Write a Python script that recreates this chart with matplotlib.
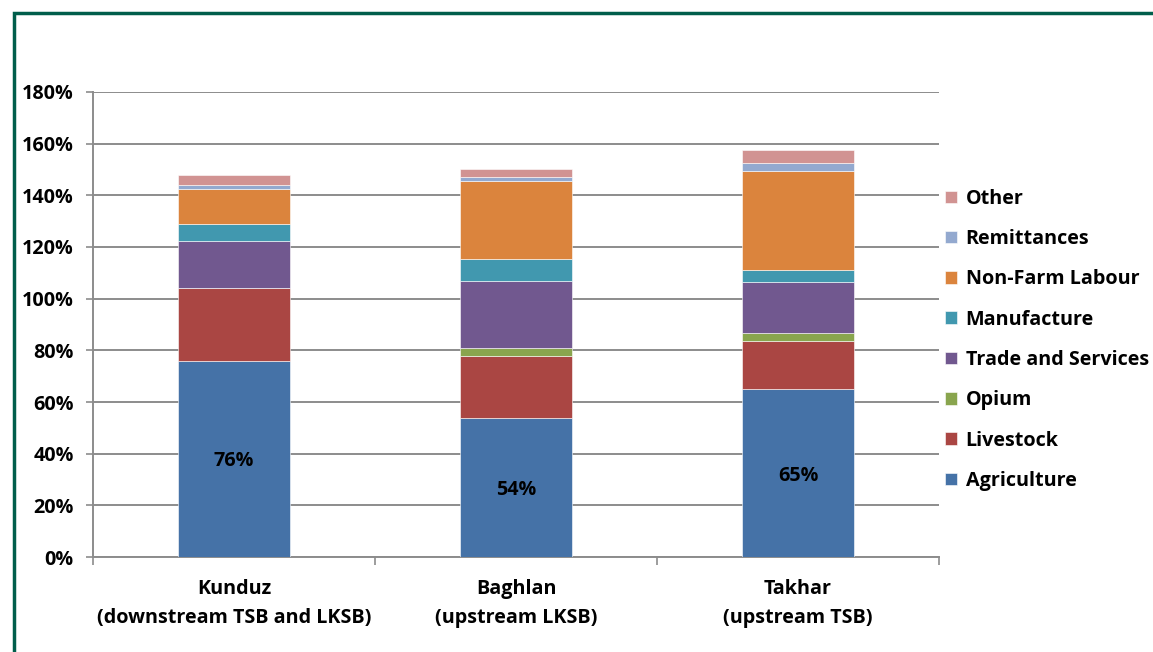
import matplotlib
matplotlib.use('Agg')
import matplotlib.pyplot as plt
from matplotlib.lines import Line2D
from matplotlib.ticker import FuncFormatter, FixedLocator
import numpy as np

plt.rcParams['font.family'] = ['Open Sans', 'DejaVu Sans']
plt.rcParams['font.weight'] = 'bold'

# data (percent of households by income source)
provinces = ['Kunduz\n(downstream TSB and LKSB)',
             'Baghlan\n(upstream LKSB)',
             'Takhar\n(upstream TSB)']
agriculture = [76, 54, 65]
livestock = [28, 24, 18.6]
opium = [0, 3, 3]
trade = [18.5, 26, 20]
manufacture = [6.3, 8.5, 4.4]
nonfarm = [13.8, 30, 38.6]
remittances = [1.4, 1.7, 2.8]
other = [3.9, 3, 5.2]

series = [
    ('Agriculture', agriculture, '#4572A7'),
    ('Livestock', livestock, '#AA4643'),
    ('Opium', opium, '#89A54E'),
    ('Trade and Services', trade, '#71588F'),
    ('Manufacture', manufacture, '#4198AF'),
    ('Non-Farm Labour', nonfarm, '#DB843D'),
    ('Remittances', remittances, '#93A9CF'),
    ('Other', other, '#D19392'),
]

fs = 14.2

fig = plt.figure(figsize=(11.53, 6.52), dpi=100)
ax = fig.add_axes([0.0807, 0.1457, 0.7337, 0.7132])

x = np.arange(len(provinces))
bottom = np.zeros(len(provinces))
handles = []
for name, vals, col in series:
    vals = np.array(vals, dtype=float)
    b = ax.bar(x, vals, 0.4, bottom=bottom, color=col, label=name,
               edgecolor='white', linewidth=0.4, zorder=3)
    handles.append(b)
    bottom += vals

# labels on agriculture segments
for xi, v in zip(x, agriculture):
    ax.text(xi, v / 2 - 1, f'{v:g}%', ha='center', va='center',
            fontsize=fs, fontweight='bold', color='black', zorder=4)

ax.set_xlim(-0.5, 2.5)
ax.set_ylim(0, 180)
ax.yaxis.set_major_locator(FixedLocator(np.arange(0, 181, 20)))
ax.yaxis.set_major_formatter(FuncFormatter(lambda v, p: f'{v:.0f}%'))
ax.grid(axis='y', color='#8c8c8c', linewidth=1.4, zorder=0)
ax.set_axisbelow(True)

ax.set_xticks(x)
ax.set_xticklabels(provinces, fontsize=fs, fontweight='bold',
                   linespacing=1.6)
ax.xaxis.set_minor_locator(FixedLocator([-0.5, 0.5, 1.5, 2.5]))
ax.tick_params(axis='x', which='major', length=0, pad=16)
ax.tick_params(axis='x', which='minor', length=6, color='#8c8c8c', width=1.2)
ax.tick_params(axis='y', length=5, color='#8c8c8c', width=1.2,
               labelsize=fs, pad=9)
for lab in ax.get_yticklabels():
    lab.set_fontweight('bold')

for s in ['top', 'right']:
    ax.spines[s].set_visible(False)
for s in ['left', 'bottom']:
    ax.spines[s].set_color('#8c8c8c')
    ax.spines[s].set_linewidth(1.4)

leg = ax.legend(handles[::-1], [s[0] for s in series][::-1],
                loc='center left', bbox_to_anchor=(1.0, 0.467),
                frameon=False, fontsize=fs, handlelength=0.6,
                handleheight=0.6, handletextpad=0.45, labelspacing=1.03,
                borderpad=0, borderaxespad=0.3)
for t in leg.get_texts():
    t.set_fontweight('bold')

# green frame of the slide box
fig.add_artist(Line2D([0.0121, 0.0121, 1.0], [0.0, 0.9800, 0.9800],
                      transform=fig.transFigure, color='#005E4B',
                      linewidth=2.5, solid_joinstyle='miter'))

fig.savefig('out.png', dpi=100)
